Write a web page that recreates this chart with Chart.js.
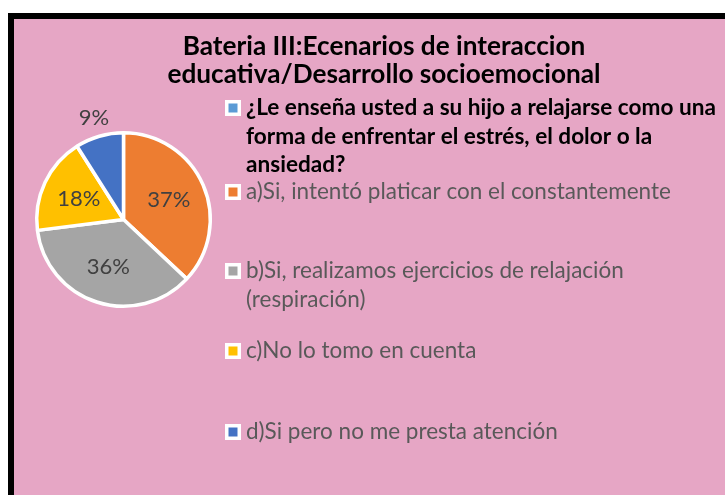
<!DOCTYPE html>
<html>
<head>
<meta charset="utf-8">
<script src="https://cdn.jsdelivr.net/npm/chart.js@4/dist/chart.umd.min.js"></script>
<style>
  html, body { margin: 0; padding: 0; background: #ffffff; }
  #wrap { position: relative; width: 725px; height: 495px; }
</style>
</head>
<body>
<div id="wrap"><canvas id="c" width="725" height="495"></canvas></div>
<script>
// ---- data ----
const titleLines = ['Bateria III:Ecenarios de interaccion', 'educativa/Desarrollo socioemocional'];
const seriesName = ['¿Le enseña usted a su hijo a relajarse como una', 'forma de enfrentar el estrés, el dolor o la', 'ansiedad?'];
const categories = [
  ['a)Si, intentó platicar con el constantemente'],
  ['b)Si, realizamos ejercicios de relajación', '(respiración)'],
  ['c)No lo tomo en cuenta'],
  ['d)Si pero no me presta atención']
];
const values = [37, 36, 18, 9];
const sliceColors = ['#ED7D31', '#A5A5A5', '#FFC000', '#4472C4'];
const seriesMarkerColor = '#5B9BD5';

// ---- plugins ----
const backgroundPlugin = {
  id: 'frameBg',
  beforeDraw(chart) {
    const ctx = chart.ctx;
    ctx.save();
    ctx.fillStyle = '#ffffff';
    ctx.fillRect(0, 0, chart.width, chart.height);
    ctx.fillStyle = '#000000';
    ctx.fillRect(8, 13, chart.width - 8, chart.height - 13);
    ctx.fillStyle = '#E6A6C5';
    ctx.fillRect(14, 19, chart.width - 14, chart.height - 19);
    ctx.restore();
  }
};

const titlePlugin = {
  id: 'twoLineTitle',
  afterDraw(chart) {
    const ctx = chart.ctx;
    ctx.save();
    ctx.font = 'bold 26.2px Lato';
    ctx.fillStyle = '#000000';
    ctx.textAlign = 'center';
    ctx.textBaseline = 'middle';
    const ys = [47, 75];
    titleLines.forEach((t, i) => ctx.fillText(t, 384, ys[i]));
    ctx.restore();
  }
};

const pctLabelPlugin = {
  id: 'pctLabels',
  afterDatasetsDraw(chart) {
    const ctx = chart.ctx;
    const meta = chart.getDatasetMeta(0);
    const data = chart.data.datasets[0].data;
    const total = data.reduce((a, b) => a + b, 0);
    ctx.save();
    ctx.font = '22px Lato';
    ctx.fillStyle = '#404040';
    ctx.textAlign = 'center';
    ctx.textBaseline = 'middle';
    meta.data.forEach((arc, i) => {
      const p = arc.getProps(['x', 'y', 'startAngle', 'endAngle', 'outerRadius'], true);
      const mid = (p.startAngle + p.endAngle) / 2;
      const pct = Math.round(data[i] / total * 100);
      const r = pct < 10 ? p.outerRadius + 19 : p.outerRadius * 0.57;
      ctx.fillText(pct + '%', p.x + Math.cos(mid) * r, p.y + Math.sin(mid) * r);
    });
    ctx.restore();
  }
};

const legendPlugin = {
  id: 'sideLegend',
  afterDraw(chart) {
    const ctx = chart.ctx;
    const ds = chart.data.datasets[0];
    const items = [{ lines: seriesName, color: seriesMarkerColor, bold: true }]
      .concat(chart.data.labels.map((l, i) => ({ lines: l, color: ds.backgroundColor[i], bold: false })));
    const firstLineY = [108, 192, 271, 351, 432];
    const markerX = 233, textX = 246, lineH = 29;
    ctx.save();
    ctx.textBaseline = 'middle';
    ctx.textAlign = 'left';
    items.forEach((it, k) => {
      const y0 = firstLineY[k];
      ctx.fillStyle = '#ffffff';
      ctx.fillRect(markerX - 8, y0 - 8, 16, 16);
      ctx.fillStyle = it.color;
      ctx.fillRect(markerX - 4.5, y0 - 4.5, 9, 9);
      ctx.font = it.bold ? 'bold 22.6px Lato' : '22.5px Lato';
      ctx.fillStyle = it.bold ? '#000000' : '#595959';
      const lh = it.bold ? 28.5 : lineH;
      it.lines.forEach((ln, j) => ctx.fillText(ln, textX, y0 + j * lh));
    });
    ctx.restore();
  }
};

new Chart(document.getElementById('c'), {
  type: 'pie',
  data: {
    labels: categories,
    datasets: [{
      label: seriesName.join(' '),
      data: values,
      backgroundColor: sliceColors,
      borderColor: '#ffffff',
      borderWidth: 3.5
    }]
  },
  options: {
    responsive: false,
    animation: false,
    devicePixelRatio: 1,
    layout: { padding: { left: 35, top: 131, right: 513, bottom: 187 } },
    plugins: {
      legend: { display: false },
      title: { display: false },
      tooltip: { enabled: false }
    }
  },
  plugins: [backgroundPlugin, pctLabelPlugin, titlePlugin, legendPlugin]
});
</script>
</body>
</html>
